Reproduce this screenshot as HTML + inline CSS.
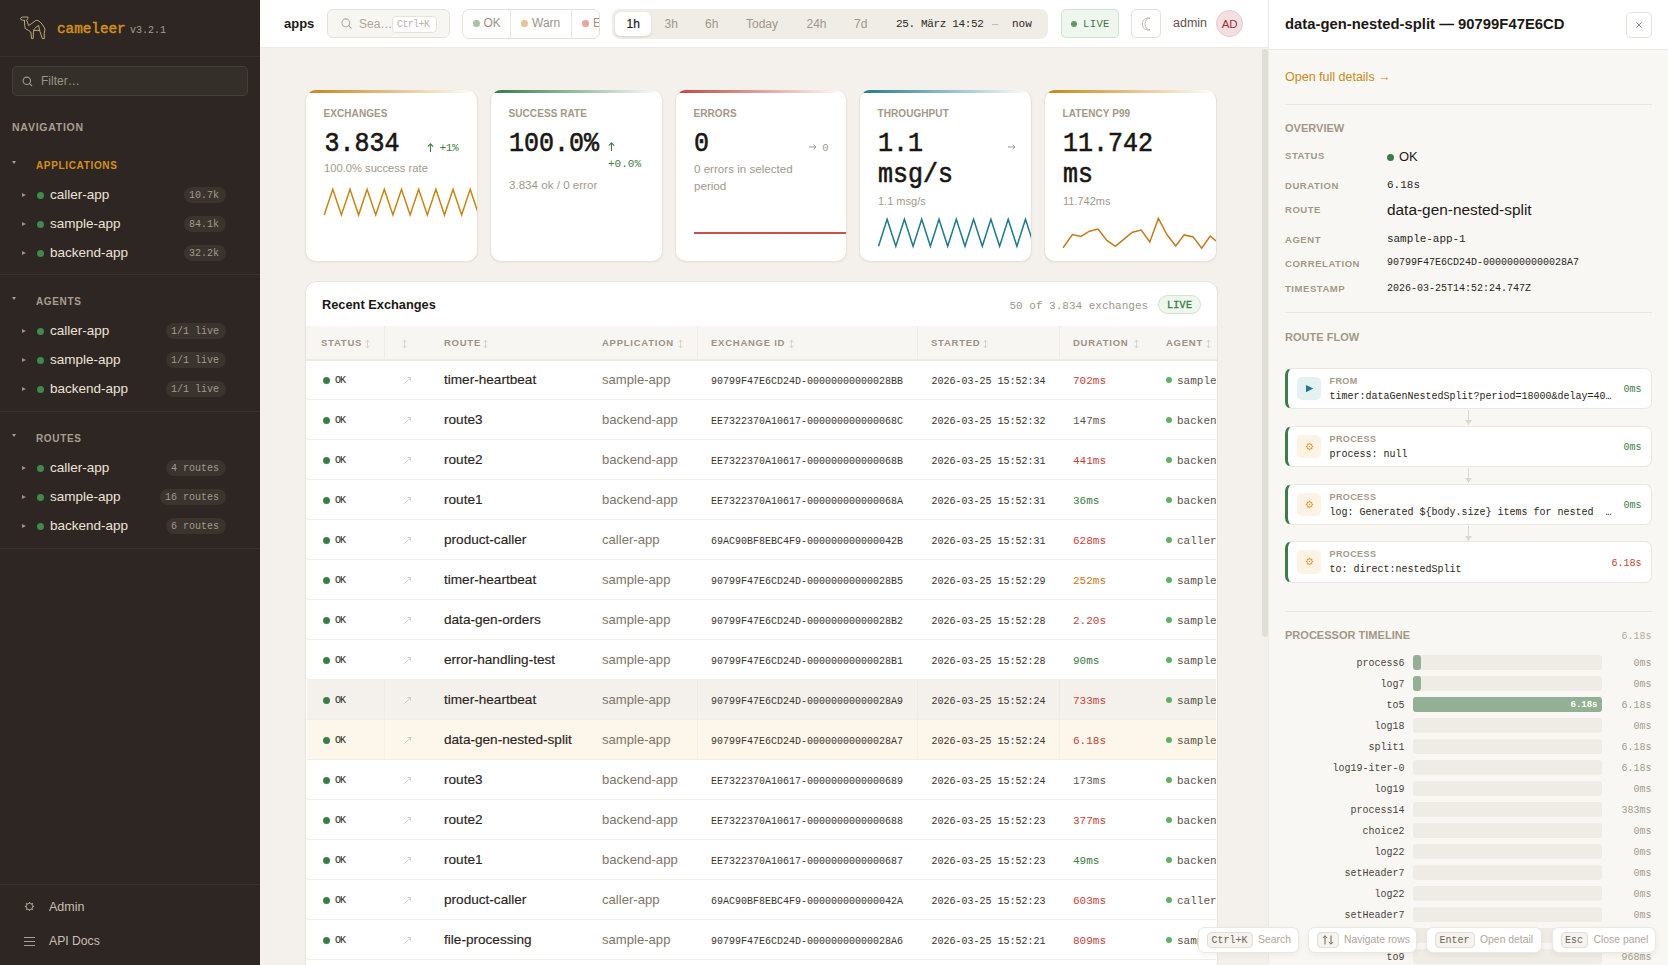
<!DOCTYPE html>
<html><head><meta charset="utf-8">
<style>
*{box-sizing:border-box;margin:0;padding:0}
html,body{width:1668px;height:965px;overflow:hidden;background:#f4f1ec;font-family:"Liberation Sans",sans-serif;position:relative}
.t{position:absolute;white-space:nowrap}
.s{font-family:"Liberation Sans",sans-serif}
.m{font-family:"Liberation Mono",monospace}
.b{position:absolute}
svg{position:absolute;overflow:visible}
</style></head><body>

<div class="b" style="left:0px;top:0px;width:260px;height:965px;background:#2d2622;"></div>
<svg style="left:0;top:0" width="60" height="50" viewBox="0 0 60 50" fill="none" stroke="#c9b485" stroke-width="0.9" stroke-linejoin="round" stroke-linecap="round">
<path d="M24.4 20.4 L22.6 20.2 Q20.3 19.6 20.4 18.7 Q20.9 17.3 22.6 17.1 L27.9 17 L27.8 18.6 L26.7 20.4 L28.6 25.6 Q31.5 23.8 35.5 20.6 Q38.5 19.2 42.5 24.8 Q44.6 27.5 45 29.5 L44.2 33.5 L44.4 38.6 L42.3 38.6 L40.5 33 L39.8 31.4 L38.6 25.5 Q36 26.5 33.8 29.8 L33.4 33 L33.2 38.6 L31.6 38.6 L30.8 32 Q28.5 30.2 25.2 28.5 Q24.6 27 24.4 20.4 Z"/>
<path d="M33.9 30.4 L39.8 30.4"/>
</svg>
<div class="t m" style="left:57px;top:22.27px;font-size:14.3px;line-height:14.3px;color:#d4901a;-webkit-text-stroke:0.45px #d4901a">cameleer</div>
<div class="t m" style="left:130px;top:25.50px;font-size:10px;line-height:10px;color:#a99e90;">v3.2.1</div>
<div class="b" style="left:0px;top:56px;width:260px;height:1px;background:#3a322d;"></div>
<div class="b" style="left:12px;top:66px;width:236px;height:30px;background:#352f2a;border:1px solid #463e38;border-radius:5px"></div>
<svg style="left:22px;top:76px" width="11" height="11" viewBox="0 0 11 11" fill="none" stroke="#a0968a" stroke-width="1.1"><circle cx="4.8" cy="4.8" r="3.7"/><path d="M7.6 7.6 L10 10"/></svg>
<div class="t s" style="left:41px;top:74.80px;font-size:12px;line-height:12px;color:#9d9386;">Filter…</div>
<div class="t s" style="left:12px;top:122.08px;font-size:10.5px;line-height:10.5px;color:#a99e90;font-weight:bold;letter-spacing:0.75px;">NAVIGATION</div>
<div class="b" style="left:12px;top:161px;width:0;height:0;border-top:3px solid #a99e90;border-left:2px solid transparent;border-right:2px solid transparent"></div>
<div class="t s" style="left:36px;top:160.50px;font-size:10px;line-height:10px;color:#d4901a;font-weight:bold;letter-spacing:0.65px;">APPLICATIONS</div>
<div class="b" style="left:21.5px;top:192.5px;width:0;height:0;border-left:4px solid #9b9185;border-top:2.5px solid transparent;border-bottom:2.5px solid transparent"></div>
<div class="b" style="left:37px;top:191.5px;width:7px;height:7px;border-radius:50%;background:#3f8a4c"></div>
<div class="t s" style="left:50px;top:187.53px;font-size:13.5px;line-height:13.5px;color:#ece4d8;">caller-app</div>
<div class="b" style="left:184px;top:187.0px;width:42px;height:16px;background:#3a332e;border-radius:8px"></div>
<div class="t m" style="right:1449px;top:191.00px;font-size:10px;line-height:10px;color:#a39a8d;">10.7k</div>
<div class="b" style="left:21.5px;top:221.7px;width:0;height:0;border-left:4px solid #9b9185;border-top:2.5px solid transparent;border-bottom:2.5px solid transparent"></div>
<div class="b" style="left:37px;top:220.7px;width:7px;height:7px;border-radius:50%;background:#3f8a4c"></div>
<div class="t s" style="left:50px;top:216.72px;font-size:13.5px;line-height:13.5px;color:#ece4d8;">sample-app</div>
<div class="b" style="left:184px;top:216.2px;width:42px;height:16px;background:#3a332e;border-radius:8px"></div>
<div class="t m" style="right:1449px;top:220.20px;font-size:10px;line-height:10px;color:#a39a8d;">84.1k</div>
<div class="b" style="left:21.5px;top:250.9px;width:0;height:0;border-left:4px solid #9b9185;border-top:2.5px solid transparent;border-bottom:2.5px solid transparent"></div>
<div class="b" style="left:37px;top:249.9px;width:7px;height:7px;border-radius:50%;background:#3f8a4c"></div>
<div class="t s" style="left:50px;top:245.92px;font-size:13.5px;line-height:13.5px;color:#ece4d8;">backend-app</div>
<div class="b" style="left:184px;top:245.4px;width:42px;height:16px;background:#3a332e;border-radius:8px"></div>
<div class="t m" style="right:1449px;top:249.40px;font-size:10px;line-height:10px;color:#a39a8d;">32.2k</div>
<div class="b" style="left:0px;top:274px;width:260px;height:1px;background:#3a322d;"></div>
<div class="b" style="left:12px;top:297px;width:0;height:0;border-top:3px solid #a99e90;border-left:2px solid transparent;border-right:2px solid transparent"></div>
<div class="t s" style="left:36px;top:296.50px;font-size:10px;line-height:10px;color:#a99e90;font-weight:bold;letter-spacing:0.65px;">AGENTS</div>
<div class="b" style="left:21.5px;top:328.5px;width:0;height:0;border-left:4px solid #9b9185;border-top:2.5px solid transparent;border-bottom:2.5px solid transparent"></div>
<div class="b" style="left:37px;top:327.5px;width:7px;height:7px;border-radius:50%;background:#3f8a4c"></div>
<div class="t s" style="left:50px;top:323.52px;font-size:13.5px;line-height:13.5px;color:#ece4d8;">caller-app</div>
<div class="b" style="left:166px;top:323.0px;width:60px;height:16px;background:#3a332e;border-radius:8px"></div>
<div class="t m" style="right:1449px;top:327.00px;font-size:10px;line-height:10px;color:#a39a8d;">1/1 live</div>
<div class="b" style="left:21.5px;top:357.7px;width:0;height:0;border-left:4px solid #9b9185;border-top:2.5px solid transparent;border-bottom:2.5px solid transparent"></div>
<div class="b" style="left:37px;top:356.7px;width:7px;height:7px;border-radius:50%;background:#3f8a4c"></div>
<div class="t s" style="left:50px;top:352.72px;font-size:13.5px;line-height:13.5px;color:#ece4d8;">sample-app</div>
<div class="b" style="left:166px;top:352.2px;width:60px;height:16px;background:#3a332e;border-radius:8px"></div>
<div class="t m" style="right:1449px;top:356.20px;font-size:10px;line-height:10px;color:#a39a8d;">1/1 live</div>
<div class="b" style="left:21.5px;top:386.9px;width:0;height:0;border-left:4px solid #9b9185;border-top:2.5px solid transparent;border-bottom:2.5px solid transparent"></div>
<div class="b" style="left:37px;top:385.9px;width:7px;height:7px;border-radius:50%;background:#3f8a4c"></div>
<div class="t s" style="left:50px;top:381.92px;font-size:13.5px;line-height:13.5px;color:#ece4d8;">backend-app</div>
<div class="b" style="left:166px;top:381.4px;width:60px;height:16px;background:#3a332e;border-radius:8px"></div>
<div class="t m" style="right:1449px;top:385.40px;font-size:10px;line-height:10px;color:#a39a8d;">1/1 live</div>
<div class="b" style="left:0px;top:411px;width:260px;height:1px;background:#3a322d;"></div>
<div class="b" style="left:12px;top:434px;width:0;height:0;border-top:3px solid #a99e90;border-left:2px solid transparent;border-right:2px solid transparent"></div>
<div class="t s" style="left:36px;top:433.50px;font-size:10px;line-height:10px;color:#a99e90;font-weight:bold;letter-spacing:0.65px;">ROUTES</div>
<div class="b" style="left:21.5px;top:465.5px;width:0;height:0;border-left:4px solid #9b9185;border-top:2.5px solid transparent;border-bottom:2.5px solid transparent"></div>
<div class="b" style="left:37px;top:464.5px;width:7px;height:7px;border-radius:50%;background:#3f8a4c"></div>
<div class="t s" style="left:50px;top:460.52px;font-size:13.5px;line-height:13.5px;color:#ece4d8;">caller-app</div>
<div class="b" style="left:166px;top:460.0px;width:60px;height:16px;background:#3a332e;border-radius:8px"></div>
<div class="t m" style="right:1449px;top:464.00px;font-size:10px;line-height:10px;color:#a39a8d;">4 routes</div>
<div class="b" style="left:21.5px;top:494.7px;width:0;height:0;border-left:4px solid #9b9185;border-top:2.5px solid transparent;border-bottom:2.5px solid transparent"></div>
<div class="b" style="left:37px;top:493.7px;width:7px;height:7px;border-radius:50%;background:#3f8a4c"></div>
<div class="t s" style="left:50px;top:489.72px;font-size:13.5px;line-height:13.5px;color:#ece4d8;">sample-app</div>
<div class="b" style="left:160px;top:489.2px;width:66px;height:16px;background:#3a332e;border-radius:8px"></div>
<div class="t m" style="right:1449px;top:493.20px;font-size:10px;line-height:10px;color:#a39a8d;">16 routes</div>
<div class="b" style="left:21.5px;top:523.9px;width:0;height:0;border-left:4px solid #9b9185;border-top:2.5px solid transparent;border-bottom:2.5px solid transparent"></div>
<div class="b" style="left:37px;top:522.9px;width:7px;height:7px;border-radius:50%;background:#3f8a4c"></div>
<div class="t s" style="left:50px;top:518.92px;font-size:13.5px;line-height:13.5px;color:#ece4d8;">backend-app</div>
<div class="b" style="left:166px;top:518.4px;width:60px;height:16px;background:#3a332e;border-radius:8px"></div>
<div class="t m" style="right:1449px;top:522.40px;font-size:10px;line-height:10px;color:#a39a8d;">6 routes</div>
<div class="b" style="left:0px;top:548px;width:260px;height:1px;background:#3a322d;"></div>
<div class="b" style="left:0px;top:884px;width:260px;height:1px;background:#3a322d;"></div>
<svg style="left:24px;top:901px" width="11" height="11" viewBox="0 0 11 11" fill="none" stroke="#a99e90" stroke-width="1"><circle cx="5.5" cy="5.5" r="3.2"/><path d="M8.70 5.50 L10.10 5.50 M7.76 7.76 L8.75 8.75 M5.50 8.70 L5.50 10.10 M3.24 7.76 L2.25 8.75 M2.30 5.50 L0.90 5.50 M3.24 3.24 L2.25 2.25 M5.50 2.30 L5.50 0.90 M7.76 3.24 L8.75 2.25 " stroke-width="1.3"/></svg>
<div class="t s" style="left:49px;top:900.88px;font-size:12.5px;line-height:12.5px;color:#c9bfb2;">Admin</div>
<svg style="left:24px;top:937px" width="11" height="10" viewBox="0 0 11 10" fill="none" stroke="#a99e90" stroke-width="1"><path d="M0 0.5H11M0 4.5H11M0 8.5H11"/></svg>
<div class="t s" style="left:49px;top:935.13px;font-size:12.2px;line-height:12.2px;color:#c9bfb2;">API Docs</div>
<div class="b" style="left:260px;top:0px;width:1008px;height:48px;background:#ffffff;border-bottom:1px solid #eeeae3"></div>
<div class="t s" style="left:284px;top:17.45px;font-size:13px;line-height:13px;color:#1c1815;font-weight:bold;">apps</div>
<div class="b" style="left:327px;top:9px;width:123px;height:29px;background:#f8f6f2;border:1px solid #e6e0d7;border-radius:6px"></div>
<svg style="left:341px;top:18px" width="11" height="11" viewBox="0 0 11 11" fill="none" stroke="#b5ab9f" stroke-width="1.1"><circle cx="4.8" cy="4.8" r="3.9"/><path d="M7.7 7.7 L10.5 10.5"/></svg>
<div class="t s" style="left:359px;top:17.80px;font-size:12px;line-height:12px;color:#b0a699;">Sea…</div>
<div class="b" style="left:392px;top:15.5px;width:45px;height:17px;background:#ffffff;border:1px solid #e8e2da;border-radius:4px"></div>
<div class="t m" style="left:397px;top:20.00px;font-size:10px;line-height:10px;color:#bcb2a6;letter-spacing:-0.6px;">Ctrl+K</div>
<div class="b" style="left:462px;top:9px;width:138px;height:30px;background:#ffffff;border:1px solid #e6e0d7;border-radius:7px;overflow:hidden"></div>
<div class="b" style="left:510px;top:10px;width:1px;height:28px;background:#ebe6de;"></div>
<div class="b" style="left:571px;top:10px;width:1px;height:28px;background:#ebe6de;"></div>
<div class="b" style="left:473px;top:20px;width:6.5px;height:6.5px;border-radius:50%;background:#a8c6a6"></div>
<div class="t s" style="left:483.5px;top:17.30px;font-size:12px;line-height:12px;color:#9c9286;">OK</div>
<div class="b" style="left:521px;top:20px;width:6.5px;height:6.5px;border-radius:50%;background:#e6c39b"></div>
<div class="t s" style="left:532px;top:17.30px;font-size:12px;line-height:12px;color:#9c9286;">Warn</div>
<div class="b" style="left:582px;top:20px;width:6.5px;height:6.5px;border-radius:50%;background:#e8a6a3"></div>
<div class="b" style="left:593px;top:10px;width:6px;height:28px;overflow:hidden"><div class="t s" style="left:0;top:6.8px;font-size:12px;line-height:12px;color:#9c9286">Error</div></div>
<div class="b" style="left:612px;top:9px;width:436px;height:30px;background:#f0ece6;border-radius:8px"></div>
<div class="b" style="left:614.5px;top:12px;width:36.5px;height:24px;background:#ffffff;border-radius:6px;box-shadow:0 1px 2px rgba(60,40,20,0.12)"></div>
<div class="t s" style="left:626.5px;top:18.30px;font-size:12px;line-height:12px;color:#1c1815;-webkit-text-stroke:0.2px #1c1815">1h</div>
<div class="t s" style="left:664.5px;top:18.30px;font-size:12px;line-height:12px;color:#a09689;">3h</div>
<div class="t s" style="left:705px;top:18.30px;font-size:12px;line-height:12px;color:#a09689;">6h</div>
<div class="t s" style="left:746px;top:18.30px;font-size:12px;line-height:12px;color:#a09689;">Today</div>
<div class="t s" style="left:806.5px;top:18.30px;font-size:12px;line-height:12px;color:#a09689;">24h</div>
<div class="t s" style="left:854px;top:18.30px;font-size:12px;line-height:12px;color:#a09689;">7d</div>
<div class="t m" style="left:896px;top:18.95px;font-size:11px;line-height:11px;color:#2e2925;letter-spacing:-0.35px;">25. März 14:52</div>
<div class="t m" style="left:992px;top:19.70px;font-size:10px;line-height:10px;color:#b9b0a4;">—</div>
<div class="t m" style="left:1012px;top:18.95px;font-size:11px;line-height:11px;color:#2e2925;">now</div>
<div class="b" style="left:1060.5px;top:9px;width:58px;height:29px;background:#eff6ee;border:1px solid #cfe4cd;border-radius:5px"></div>
<div class="b" style="left:1071px;top:20.5px;width:6px;height:6px;border-radius:50%;background:#5b9a62"></div>
<div class="t m" style="left:1083px;top:19.43px;font-size:10.5px;line-height:10.5px;color:#3b7a45;letter-spacing:0.4px;">LIVE</div>
<div class="b" style="left:1131px;top:9px;width:30px;height:29px;background:#ffffff;border:1px solid #e6e0d7;border-radius:5px"></div>
<svg style="left:1142px;top:17px" width="12" height="14" viewBox="0 0 12 14" fill="none" stroke="#c3b9ac" stroke-width="1"><path d="M8 1 A6.2 6.2 0 1 0 8 13 A5 6 0 0 1 8 1 Z"/></svg>
<div class="t s" style="left:1173px;top:16.98px;font-size:12.5px;line-height:12.5px;color:#5e554c;">admin</div>
<div class="b" style="left:1216px;top:10px;width:27px;height:27px;border-radius:50%;background:#f3dfe0;border:1px solid #e6c9cb"></div>
<div class="t s" style="left:1221px;top:18.73px;font-size:11.5px;line-height:11.5px;color:#9c2f35;width:17px;text-align:center;letter-spacing:-0.2px">AD</div>
<div class="b" style="left:1262px;top:49px;width:6px;height:588px;background:#e2ddd6;border-radius:3px"></div>
<div class="b" style="left:305px;top:89.6px;width:172.8px;height:172.6px;background:#fff;border:1px solid #e8e2d9;border-top:none;border-radius:11px;overflow:hidden;box-shadow:0 1px 2px rgba(80,60,30,0.05)"><div class="b" style="left:0;top:0;width:100%;height:3px;background:linear-gradient(90deg,#c6850f,#c6850f00)"></div></div>
<div class="t s" style="left:323.5px;top:108.50px;font-size:10px;line-height:10px;color:#a39888;font-weight:bold;letter-spacing:0.08px;">EXCHANGES</div>
<div class="b" style="left:489.8px;top:89.6px;width:172.8px;height:172.6px;background:#fff;border:1px solid #e8e2d9;border-top:none;border-radius:11px;overflow:hidden;box-shadow:0 1px 2px rgba(80,60,30,0.05)"><div class="b" style="left:0;top:0;width:100%;height:3px;background:linear-gradient(90deg,#2f7a45,#2f7a4500)"></div></div>
<div class="t s" style="left:508.5px;top:108.50px;font-size:10px;line-height:10px;color:#a39888;font-weight:bold;letter-spacing:0.08px;">SUCCESS RATE</div>
<div class="b" style="left:674.6px;top:89.6px;width:172.8px;height:172.6px;background:#fff;border:1px solid #e8e2d9;border-top:none;border-radius:11px;overflow:hidden;box-shadow:0 1px 2px rgba(80,60,30,0.05)"><div class="b" style="left:0;top:0;width:100%;height:3px;background:linear-gradient(90deg,#c0443c,#c0443c00)"></div></div>
<div class="t s" style="left:693.5px;top:108.50px;font-size:10px;line-height:10px;color:#a39888;font-weight:bold;letter-spacing:0.08px;">ERRORS</div>
<div class="b" style="left:859.4px;top:89.6px;width:172.8px;height:172.6px;background:#fff;border:1px solid #e8e2d9;border-top:none;border-radius:11px;overflow:hidden;box-shadow:0 1px 2px rgba(80,60,30,0.05)"><div class="b" style="left:0;top:0;width:100%;height:3px;background:linear-gradient(90deg,#1f7a8a,#1f7a8a00)"></div></div>
<div class="t s" style="left:877.5px;top:108.50px;font-size:10px;line-height:10px;color:#a39888;font-weight:bold;letter-spacing:0.08px;">THROUGHPUT</div>
<div class="b" style="left:1044.2px;top:89.6px;width:172.8px;height:172.6px;background:#fff;border:1px solid #e8e2d9;border-top:none;border-radius:11px;overflow:hidden;box-shadow:0 1px 2px rgba(80,60,30,0.05)"><div class="b" style="left:0;top:0;width:100%;height:3px;background:linear-gradient(90deg,#c6850f,#c6850f00)"></div></div>
<div class="t s" style="left:1062.5px;top:108.50px;font-size:10px;line-height:10px;color:#a39888;font-weight:bold;letter-spacing:0.08px;">LATENCY P99</div>
<div class="t m" style="left:324.5px;top:132.25px;font-size:25px;line-height:25px;color:#1a1613;-webkit-text-stroke:0.55px #1a1613;transform:scaleY(1.09);transform-origin:0 75%">3.834</div>
<svg style="left:426.5px;top:143px" width="7" height="9" viewBox="0 0 7 9" fill="none" stroke="#3d7c47" stroke-width="1.1"><path d="M3.5 9 V1 M0.8 3.6 L3.5 0.9 L6.2 3.6"/></svg>
<div class="t m" style="left:439.5px;top:142.75px;font-size:11px;line-height:11px;color:#3d7c47;letter-spacing:-0.35px;">+1%</div>
<div class="t s" style="left:324px;top:163.18px;font-size:11.2px;line-height:11.2px;color:#a2988b;">100.0% success rate</div>
<div class="b" style="left:306px;top:180px;width:171px;height:45px;overflow:hidden"><svg style="left:0;top:0" width="171" height="45"><g transform="translate(-306,-180)"><path d="M324.2 215.0 L332.8 189.3 L341.4 215.0 L350.0 189.3 L358.6 215.0 L367.1 189.3 L375.7 215.0 L384.3 189.3 L392.9 215.0 L401.5 189.3 L410.1 215.0 L418.7 189.3 L427.3 215.0 L435.9 189.3 L444.5 215.0 L453.0 189.3 L461.6 215.0 L470.2 189.3 L478.8 215.0 L487.4 189.3 L496.0 215.0 L504.6 189.3" fill="none" stroke="#c6850f" stroke-width="1.5" stroke-linejoin="miter"/></g></svg></div>
<div class="t m" style="left:509px;top:132.25px;font-size:25px;line-height:25px;color:#1a1613;-webkit-text-stroke:0.55px #1a1613;transform:scaleY(1.09);transform-origin:0 75%">100.0%</div>
<svg style="left:607.5px;top:142px" width="7" height="9" viewBox="0 0 7 9" fill="none" stroke="#3d7c47" stroke-width="1.1"><path d="M3.5 9 V1 M0.8 3.6 L3.5 0.9 L6.2 3.6"/></svg>
<div class="t m" style="left:608px;top:159.45px;font-size:11px;line-height:11px;color:#3d7c47;">+0.0%</div>
<div class="t s" style="left:509px;top:178.94px;font-size:11.6px;line-height:11.6px;color:#a2988b;">3.834 ok / 0 error</div>
<div class="t m" style="left:694px;top:132.25px;font-size:25px;line-height:25px;color:#1a1613;-webkit-text-stroke:0.55px #1a1613;transform:scaleY(1.09);transform-origin:0 75%">0</div>
<svg style="left:809px;top:144.3px" width="8" height="6" viewBox="0 0 8 6" fill="none" stroke="#a0968a" stroke-width="1"><path d="M0 3 H7 M4.6 0.8 L7 3 L4.6 5.2"/></svg>
<div class="t m" style="left:822.3px;top:143.12px;font-size:10.5px;line-height:10.5px;color:#a0968a;">0</div>
<div class="t s" style="left:694px;top:163.14px;font-size:11.6px;line-height:11.6px;color:#a2988b;">0 errors in selected</div>
<div class="t s" style="left:694px;top:180.14px;font-size:11.6px;line-height:11.6px;color:#a2988b;">period</div>
<div class="b" style="left:694px;top:232.3px;width:152px;height:2px;background:#c8514a;"></div>
<div class="t m" style="left:878px;top:132.25px;font-size:25px;line-height:25px;color:#1a1613;-webkit-text-stroke:0.55px #1a1613;transform:scaleY(1.09);transform-origin:0 75%">1.1</div>
<div class="t m" style="left:878px;top:163.25px;font-size:25px;line-height:25px;color:#1a1613;-webkit-text-stroke:0.55px #1a1613;transform:scaleY(1.09);transform-origin:0 75%">msg/s</div>
<svg style="left:1007.5px;top:144.3px" width="8" height="6" viewBox="0 0 8 6" fill="none" stroke="#a0968a" stroke-width="1"><path d="M0 3 H7 M4.6 0.8 L7 3 L4.6 5.2"/></svg>
<div class="t s" style="left:878px;top:195.65px;font-size:11px;line-height:11px;color:#a2988b;">1.1 msg/s</div>
<div class="b" style="left:860px;top:210px;width:171px;height:45px;overflow:hidden"><svg style="left:0;top:0" width="171" height="45"><g transform="translate(-860,-210)"><path d="M878.5 246.3 L887.1 219.3 L895.8 246.3 L904.4 219.3 L913.1 246.3 L921.7 219.3 L930.4 246.3 L939.0 219.3 L947.7 246.3 L956.3 219.3 L965.0 246.3 L973.6 219.3 L982.3 246.3 L990.9 219.3 L999.6 246.3 L1008.2 219.3 L1016.9 246.3 L1025.5 219.3 L1034.2 246.3 L1042.8 219.3 L1051.5 246.3 L1060.2 219.3" fill="none" stroke="#1f7a8a" stroke-width="1.5" stroke-linejoin="miter"/></g></svg></div>
<div class="t m" style="left:1063px;top:132.25px;font-size:25px;line-height:25px;color:#1a1613;-webkit-text-stroke:0.55px #1a1613;transform:scaleY(1.09);transform-origin:0 75%">11.742</div>
<div class="t m" style="left:1063px;top:163.25px;font-size:25px;line-height:25px;color:#1a1613;-webkit-text-stroke:0.55px #1a1613;transform:scaleY(1.09);transform-origin:0 75%">ms</div>
<div class="t s" style="left:1063px;top:195.65px;font-size:11px;line-height:11px;color:#a2988b;">11.742ms</div>
<div class="b" style="left:1045px;top:200px;width:171px;height:60px;overflow:hidden"><svg style="left:0;top:0" width="171" height="60"><g transform="translate(-1045,-200)"><path d="M1063.1 247.7 L1072.4 234.5 L1080.9 236.5 L1089.5 231.2 L1098.0 229.0 L1106.9 240.4 L1115.3 246.3 L1124.0 239.1 L1132.4 232.2 L1141.3 230.0 L1149.8 242.0 L1158.4 218.4 L1166.9 234.5 L1175.7 245.9 L1184.2 234.9 L1193.1 236.9 L1201.7 248.3 L1210.2 236.1 L1219.1 243.4" fill="none" stroke="#c27a1a" stroke-width="1.5" stroke-linejoin="miter"/></g></svg></div>
<div class="b" style="left:305px;top:281px;width:913px;height:700px;background:#fff;border:1px solid #e8e2d9;border-radius:11px;overflow:hidden"><div class="b" style="left:0;top:44px;width:100%;height:35px;background:#f8f6f2;border-bottom:2px solid #efebe4"></div></div>
<div class="t s" style="left:322px;top:299.12px;font-size:12.8px;line-height:12.8px;color:#1c1815;font-weight:bold;">Recent Exchanges</div>
<div class="t m" style="left:1009.5px;top:300.75px;font-size:11px;line-height:11px;color:#a0968a;">50 of 3.834 exchanges</div>
<div class="b" style="left:1157.5px;top:294.5px;width:43.5px;height:19px;background:#eef6ee;border:1px solid #cfe4cd;border-radius:9.5px"></div>
<div class="t m" style="left:1167px;top:300.50px;font-size:10px;line-height:10px;color:#3b7a45;letter-spacing:0.3px;-webkit-text-stroke:0.35px #3b7a45">LIVE</div>
<div class="b" style="left:383.5px;top:326px;width:1px;height:33px;background:#efebe5;"></div>
<div class="b" style="left:696.5px;top:326px;width:1px;height:33px;background:#efebe5;"></div>
<div class="b" style="left:917px;top:326px;width:1px;height:33px;background:#efebe5;"></div>
<div class="b" style="left:1059px;top:326px;width:1px;height:33px;background:#efebe5;"></div>
<div class="t s" style="left:321px;top:337.93px;font-size:9.5px;line-height:9.5px;color:#9d9284;font-weight:bold;letter-spacing:0.75px;">STATUS</div>
<svg style="left:365.0px;top:340px" width="5" height="8" viewBox="0 0 5 8" fill="none" stroke="#cfc7bc" stroke-width="0.75"><path d="M2.5 0.5 V7.5 M0.6 2 L2.5 0.4 L4.4 2 M0.6 6 L2.5 7.6 L4.4 6"/></svg>
<svg style="left:402.0px;top:340px" width="5" height="8" viewBox="0 0 5 8" fill="none" stroke="#cfc7bc" stroke-width="0.75"><path d="M2.5 0.5 V7.5 M0.6 2 L2.5 0.4 L4.4 2 M0.6 6 L2.5 7.6 L4.4 6"/></svg>
<div class="t s" style="left:444px;top:337.93px;font-size:9.5px;line-height:9.5px;color:#9d9284;font-weight:bold;letter-spacing:0.75px;">ROUTE</div>
<svg style="left:483.0px;top:340px" width="5" height="8" viewBox="0 0 5 8" fill="none" stroke="#cfc7bc" stroke-width="0.75"><path d="M2.5 0.5 V7.5 M0.6 2 L2.5 0.4 L4.4 2 M0.6 6 L2.5 7.6 L4.4 6"/></svg>
<div class="t s" style="left:602px;top:337.93px;font-size:9.5px;line-height:9.5px;color:#9d9284;font-weight:bold;letter-spacing:0.75px;">APPLICATION</div>
<svg style="left:677.5px;top:340px" width="5" height="8" viewBox="0 0 5 8" fill="none" stroke="#cfc7bc" stroke-width="0.75"><path d="M2.5 0.5 V7.5 M0.6 2 L2.5 0.4 L4.4 2 M0.6 6 L2.5 7.6 L4.4 6"/></svg>
<div class="t s" style="left:711px;top:337.93px;font-size:9.5px;line-height:9.5px;color:#9d9284;font-weight:bold;letter-spacing:0.75px;">EXCHANGE ID</div>
<svg style="left:789.2px;top:340px" width="5" height="8" viewBox="0 0 5 8" fill="none" stroke="#cfc7bc" stroke-width="0.75"><path d="M2.5 0.5 V7.5 M0.6 2 L2.5 0.4 L4.4 2 M0.6 6 L2.5 7.6 L4.4 6"/></svg>
<div class="t s" style="left:931px;top:337.93px;font-size:9.5px;line-height:9.5px;color:#9d9284;font-weight:bold;letter-spacing:0.75px;">STARTED</div>
<svg style="left:983.0px;top:340px" width="5" height="8" viewBox="0 0 5 8" fill="none" stroke="#cfc7bc" stroke-width="0.75"><path d="M2.5 0.5 V7.5 M0.6 2 L2.5 0.4 L4.4 2 M0.6 6 L2.5 7.6 L4.4 6"/></svg>
<div class="t s" style="left:1073px;top:337.93px;font-size:9.5px;line-height:9.5px;color:#9d9284;font-weight:bold;letter-spacing:0.75px;">DURATION</div>
<svg style="left:1134.3px;top:340px" width="5" height="8" viewBox="0 0 5 8" fill="none" stroke="#cfc7bc" stroke-width="0.75"><path d="M2.5 0.5 V7.5 M0.6 2 L2.5 0.4 L4.4 2 M0.6 6 L2.5 7.6 L4.4 6"/></svg>
<div class="t s" style="left:1166px;top:337.93px;font-size:9.5px;line-height:9.5px;color:#9d9284;font-weight:bold;letter-spacing:0.75px;">AGENT</div>
<svg style="left:1206.3px;top:340px" width="5" height="8" viewBox="0 0 5 8" fill="none" stroke="#cfc7bc" stroke-width="0.75"><path d="M2.5 0.5 V7.5 M0.6 2 L2.5 0.4 L4.4 2 M0.6 6 L2.5 7.6 L4.4 6"/></svg>
<div class="b" style="left:307px;top:399px;width:909px;height:1px;background:#f1ede7;"></div>
<div class="b" style="left:322.5px;top:376.5px;width:7px;height:7px;border-radius:50%;background:#3a7d48"></div>
<div class="t m" style="left:335px;top:376.00px;font-size:10px;line-height:10px;color:#3a342e;letter-spacing:-0.9px;-webkit-text-stroke:0.1px #3a342e">OK</div>
<svg style="left:404px;top:377px" width="7" height="7" viewBox="0 0 7 7" fill="none" stroke="#cfc6ba" stroke-width="0.9"><path d="M0.3 6.7 L6.5 0.5 M3.6 0.5 H6.5 V3.4"/></svg>
<div class="t s" style="left:444px;top:373.04px;font-size:13.6px;line-height:13.6px;color:#2a2420;-webkit-text-stroke:0.15px #2a2420">timer-heartbeat</div>
<div class="t s" style="left:602px;top:373.47px;font-size:13.1px;line-height:13.1px;color:#807569;">sample-app</div>
<div class="t m" style="left:711px;top:376.50px;font-size:10px;line-height:10px;color:#3a342e;">90799F47E6CD24D-00000000000028BB</div>
<div class="t m" style="left:931.5px;top:376.80px;font-size:10px;line-height:10px;color:#3a342e;">2026-03-25 15:52:34</div>
<div class="t m" style="left:1073px;top:375.75px;font-size:11px;line-height:11px;color:#c0443c;">702ms</div>
<div class="b" style="left:1166px;top:377px;width:6px;height:6px;border-radius:50%;background:#5cb45f"></div>
<div class="b" style="left:1177px;top:372px;width:39px;height:16px;overflow:hidden"><div class="t m" style="left:0;top:3.75px;font-size:11px;line-height:11px;color:#5a524a">sample-app</div></div>
<div class="b" style="left:307px;top:439px;width:909px;height:1px;background:#f1ede7;"></div>
<div class="b" style="left:322.5px;top:416.5px;width:7px;height:7px;border-radius:50%;background:#3a7d48"></div>
<div class="t m" style="left:335px;top:416.00px;font-size:10px;line-height:10px;color:#3a342e;letter-spacing:-0.9px;-webkit-text-stroke:0.1px #3a342e">OK</div>
<svg style="left:404px;top:417px" width="7" height="7" viewBox="0 0 7 7" fill="none" stroke="#cfc6ba" stroke-width="0.9"><path d="M0.3 6.7 L6.5 0.5 M3.6 0.5 H6.5 V3.4"/></svg>
<div class="t s" style="left:444px;top:413.04px;font-size:13.6px;line-height:13.6px;color:#2a2420;-webkit-text-stroke:0.15px #2a2420">route3</div>
<div class="t s" style="left:602px;top:413.47px;font-size:13.1px;line-height:13.1px;color:#807569;">backend-app</div>
<div class="t m" style="left:711px;top:416.50px;font-size:10px;line-height:10px;color:#3a342e;">EE7322370A10617-000000000000068C</div>
<div class="t m" style="left:931.5px;top:416.80px;font-size:10px;line-height:10px;color:#3a342e;">2026-03-25 15:52:32</div>
<div class="t m" style="left:1073px;top:415.75px;font-size:11px;line-height:11px;color:#5e564d;">147ms</div>
<div class="b" style="left:1166px;top:417px;width:6px;height:6px;border-radius:50%;background:#5cb45f"></div>
<div class="b" style="left:1177px;top:412px;width:39px;height:16px;overflow:hidden"><div class="t m" style="left:0;top:3.75px;font-size:11px;line-height:11px;color:#5a524a">backen-app</div></div>
<div class="b" style="left:307px;top:479px;width:909px;height:1px;background:#f1ede7;"></div>
<div class="b" style="left:322.5px;top:456.5px;width:7px;height:7px;border-radius:50%;background:#3a7d48"></div>
<div class="t m" style="left:335px;top:456.00px;font-size:10px;line-height:10px;color:#3a342e;letter-spacing:-0.9px;-webkit-text-stroke:0.1px #3a342e">OK</div>
<svg style="left:404px;top:457px" width="7" height="7" viewBox="0 0 7 7" fill="none" stroke="#cfc6ba" stroke-width="0.9"><path d="M0.3 6.7 L6.5 0.5 M3.6 0.5 H6.5 V3.4"/></svg>
<div class="t s" style="left:444px;top:453.04px;font-size:13.6px;line-height:13.6px;color:#2a2420;-webkit-text-stroke:0.15px #2a2420">route2</div>
<div class="t s" style="left:602px;top:453.47px;font-size:13.1px;line-height:13.1px;color:#807569;">backend-app</div>
<div class="t m" style="left:711px;top:456.50px;font-size:10px;line-height:10px;color:#3a342e;">EE7322370A10617-000000000000068B</div>
<div class="t m" style="left:931.5px;top:456.80px;font-size:10px;line-height:10px;color:#3a342e;">2026-03-25 15:52:31</div>
<div class="t m" style="left:1073px;top:455.75px;font-size:11px;line-height:11px;color:#c0443c;">441ms</div>
<div class="b" style="left:1166px;top:457px;width:6px;height:6px;border-radius:50%;background:#5cb45f"></div>
<div class="b" style="left:1177px;top:452px;width:39px;height:16px;overflow:hidden"><div class="t m" style="left:0;top:3.75px;font-size:11px;line-height:11px;color:#5a524a">backen-app</div></div>
<div class="b" style="left:307px;top:519px;width:909px;height:1px;background:#f1ede7;"></div>
<div class="b" style="left:322.5px;top:496.5px;width:7px;height:7px;border-radius:50%;background:#3a7d48"></div>
<div class="t m" style="left:335px;top:496.00px;font-size:10px;line-height:10px;color:#3a342e;letter-spacing:-0.9px;-webkit-text-stroke:0.1px #3a342e">OK</div>
<svg style="left:404px;top:497px" width="7" height="7" viewBox="0 0 7 7" fill="none" stroke="#cfc6ba" stroke-width="0.9"><path d="M0.3 6.7 L6.5 0.5 M3.6 0.5 H6.5 V3.4"/></svg>
<div class="t s" style="left:444px;top:493.04px;font-size:13.6px;line-height:13.6px;color:#2a2420;-webkit-text-stroke:0.15px #2a2420">route1</div>
<div class="t s" style="left:602px;top:493.47px;font-size:13.1px;line-height:13.1px;color:#807569;">backend-app</div>
<div class="t m" style="left:711px;top:496.50px;font-size:10px;line-height:10px;color:#3a342e;">EE7322370A10617-000000000000068A</div>
<div class="t m" style="left:931.5px;top:496.80px;font-size:10px;line-height:10px;color:#3a342e;">2026-03-25 15:52:31</div>
<div class="t m" style="left:1073px;top:495.75px;font-size:11px;line-height:11px;color:#3d7c47;">36ms</div>
<div class="b" style="left:1166px;top:497px;width:6px;height:6px;border-radius:50%;background:#5cb45f"></div>
<div class="b" style="left:1177px;top:492px;width:39px;height:16px;overflow:hidden"><div class="t m" style="left:0;top:3.75px;font-size:11px;line-height:11px;color:#5a524a">backen-app</div></div>
<div class="b" style="left:307px;top:559px;width:909px;height:1px;background:#f1ede7;"></div>
<div class="b" style="left:322.5px;top:536.5px;width:7px;height:7px;border-radius:50%;background:#3a7d48"></div>
<div class="t m" style="left:335px;top:536.00px;font-size:10px;line-height:10px;color:#3a342e;letter-spacing:-0.9px;-webkit-text-stroke:0.1px #3a342e">OK</div>
<svg style="left:404px;top:537px" width="7" height="7" viewBox="0 0 7 7" fill="none" stroke="#cfc6ba" stroke-width="0.9"><path d="M0.3 6.7 L6.5 0.5 M3.6 0.5 H6.5 V3.4"/></svg>
<div class="t s" style="left:444px;top:533.04px;font-size:13.6px;line-height:13.6px;color:#2a2420;-webkit-text-stroke:0.15px #2a2420">product-caller</div>
<div class="t s" style="left:602px;top:533.47px;font-size:13.1px;line-height:13.1px;color:#807569;">caller-app</div>
<div class="t m" style="left:711px;top:536.50px;font-size:10px;line-height:10px;color:#3a342e;">69AC90BF8EBC4F9-000000000000042B</div>
<div class="t m" style="left:931.5px;top:536.80px;font-size:10px;line-height:10px;color:#3a342e;">2026-03-25 15:52:31</div>
<div class="t m" style="left:1073px;top:535.75px;font-size:11px;line-height:11px;color:#c0443c;">628ms</div>
<div class="b" style="left:1166px;top:537px;width:6px;height:6px;border-radius:50%;background:#5cb45f"></div>
<div class="b" style="left:1177px;top:532px;width:39px;height:16px;overflow:hidden"><div class="t m" style="left:0;top:3.75px;font-size:11px;line-height:11px;color:#5a524a">caller-app</div></div>
<div class="b" style="left:307px;top:599px;width:909px;height:1px;background:#f1ede7;"></div>
<div class="b" style="left:322.5px;top:576.5px;width:7px;height:7px;border-radius:50%;background:#3a7d48"></div>
<div class="t m" style="left:335px;top:576.00px;font-size:10px;line-height:10px;color:#3a342e;letter-spacing:-0.9px;-webkit-text-stroke:0.1px #3a342e">OK</div>
<svg style="left:404px;top:577px" width="7" height="7" viewBox="0 0 7 7" fill="none" stroke="#cfc6ba" stroke-width="0.9"><path d="M0.3 6.7 L6.5 0.5 M3.6 0.5 H6.5 V3.4"/></svg>
<div class="t s" style="left:444px;top:573.04px;font-size:13.6px;line-height:13.6px;color:#2a2420;-webkit-text-stroke:0.15px #2a2420">timer-heartbeat</div>
<div class="t s" style="left:602px;top:573.47px;font-size:13.1px;line-height:13.1px;color:#807569;">sample-app</div>
<div class="t m" style="left:711px;top:576.50px;font-size:10px;line-height:10px;color:#3a342e;">90799F47E6CD24D-00000000000028B5</div>
<div class="t m" style="left:931.5px;top:576.80px;font-size:10px;line-height:10px;color:#3a342e;">2026-03-25 15:52:29</div>
<div class="t m" style="left:1073px;top:575.75px;font-size:11px;line-height:11px;color:#c27a1a;">252ms</div>
<div class="b" style="left:1166px;top:577px;width:6px;height:6px;border-radius:50%;background:#5cb45f"></div>
<div class="b" style="left:1177px;top:572px;width:39px;height:16px;overflow:hidden"><div class="t m" style="left:0;top:3.75px;font-size:11px;line-height:11px;color:#5a524a">sample-app</div></div>
<div class="b" style="left:307px;top:639px;width:909px;height:1px;background:#f1ede7;"></div>
<div class="b" style="left:322.5px;top:616.5px;width:7px;height:7px;border-radius:50%;background:#3a7d48"></div>
<div class="t m" style="left:335px;top:616.00px;font-size:10px;line-height:10px;color:#3a342e;letter-spacing:-0.9px;-webkit-text-stroke:0.1px #3a342e">OK</div>
<svg style="left:404px;top:617px" width="7" height="7" viewBox="0 0 7 7" fill="none" stroke="#cfc6ba" stroke-width="0.9"><path d="M0.3 6.7 L6.5 0.5 M3.6 0.5 H6.5 V3.4"/></svg>
<div class="t s" style="left:444px;top:613.04px;font-size:13.6px;line-height:13.6px;color:#2a2420;-webkit-text-stroke:0.15px #2a2420">data-gen-orders</div>
<div class="t s" style="left:602px;top:613.47px;font-size:13.1px;line-height:13.1px;color:#807569;">sample-app</div>
<div class="t m" style="left:711px;top:616.50px;font-size:10px;line-height:10px;color:#3a342e;">90799F47E6CD24D-00000000000028B2</div>
<div class="t m" style="left:931.5px;top:616.80px;font-size:10px;line-height:10px;color:#3a342e;">2026-03-25 15:52:28</div>
<div class="t m" style="left:1073px;top:615.75px;font-size:11px;line-height:11px;color:#c0443c;">2.20s</div>
<div class="b" style="left:1166px;top:617px;width:6px;height:6px;border-radius:50%;background:#5cb45f"></div>
<div class="b" style="left:1177px;top:612px;width:39px;height:16px;overflow:hidden"><div class="t m" style="left:0;top:3.75px;font-size:11px;line-height:11px;color:#5a524a">sample-app</div></div>
<div class="b" style="left:307px;top:679px;width:909px;height:1px;background:#f1ede7;"></div>
<div class="b" style="left:322.5px;top:656.5px;width:7px;height:7px;border-radius:50%;background:#3a7d48"></div>
<div class="t m" style="left:335px;top:656.00px;font-size:10px;line-height:10px;color:#3a342e;letter-spacing:-0.9px;-webkit-text-stroke:0.1px #3a342e">OK</div>
<svg style="left:404px;top:657px" width="7" height="7" viewBox="0 0 7 7" fill="none" stroke="#cfc6ba" stroke-width="0.9"><path d="M0.3 6.7 L6.5 0.5 M3.6 0.5 H6.5 V3.4"/></svg>
<div class="t s" style="left:444px;top:653.04px;font-size:13.6px;line-height:13.6px;color:#2a2420;-webkit-text-stroke:0.15px #2a2420">error-handling-test</div>
<div class="t s" style="left:602px;top:653.47px;font-size:13.1px;line-height:13.1px;color:#807569;">sample-app</div>
<div class="t m" style="left:711px;top:656.50px;font-size:10px;line-height:10px;color:#3a342e;">90799F47E6CD24D-00000000000028B1</div>
<div class="t m" style="left:931.5px;top:656.80px;font-size:10px;line-height:10px;color:#3a342e;">2026-03-25 15:52:28</div>
<div class="t m" style="left:1073px;top:655.75px;font-size:11px;line-height:11px;color:#3d7c47;">90ms</div>
<div class="b" style="left:1166px;top:657px;width:6px;height:6px;border-radius:50%;background:#5cb45f"></div>
<div class="b" style="left:1177px;top:652px;width:39px;height:16px;overflow:hidden"><div class="t m" style="left:0;top:3.75px;font-size:11px;line-height:11px;color:#5a524a">sample-app</div></div>
<div class="b" style="left:307px;top:680px;width:909px;height:40px;background:#f4f1ec;"></div>
<div class="b" style="left:383.5px;top:680px;width:1px;height:40px;background:rgba(0,0,0,0.022);"></div>
<div class="b" style="left:696.5px;top:680px;width:1px;height:40px;background:rgba(0,0,0,0.022);"></div>
<div class="b" style="left:917px;top:680px;width:1px;height:40px;background:rgba(0,0,0,0.022);"></div>
<div class="b" style="left:1059px;top:680px;width:1px;height:40px;background:rgba(0,0,0,0.022);"></div>
<div class="b" style="left:307px;top:719px;width:909px;height:1px;background:#f1ede7;"></div>
<div class="b" style="left:322.5px;top:696.5px;width:7px;height:7px;border-radius:50%;background:#3a7d48"></div>
<div class="t m" style="left:335px;top:696.00px;font-size:10px;line-height:10px;color:#3a342e;letter-spacing:-0.9px;-webkit-text-stroke:0.1px #3a342e">OK</div>
<svg style="left:404px;top:697px" width="7" height="7" viewBox="0 0 7 7" fill="none" stroke="#cfc6ba" stroke-width="0.9"><path d="M0.3 6.7 L6.5 0.5 M3.6 0.5 H6.5 V3.4"/></svg>
<div class="t s" style="left:444px;top:693.04px;font-size:13.6px;line-height:13.6px;color:#2a2420;-webkit-text-stroke:0.15px #2a2420">timer-heartbeat</div>
<div class="t s" style="left:602px;top:693.47px;font-size:13.1px;line-height:13.1px;color:#807569;">sample-app</div>
<div class="t m" style="left:711px;top:696.50px;font-size:10px;line-height:10px;color:#3a342e;">90799F47E6CD24D-00000000000028A9</div>
<div class="t m" style="left:931.5px;top:696.80px;font-size:10px;line-height:10px;color:#3a342e;">2026-03-25 15:52:24</div>
<div class="t m" style="left:1073px;top:695.75px;font-size:11px;line-height:11px;color:#c0443c;">733ms</div>
<div class="b" style="left:1166px;top:697px;width:6px;height:6px;border-radius:50%;background:#5cb45f"></div>
<div class="b" style="left:1177px;top:692px;width:39px;height:16px;overflow:hidden"><div class="t m" style="left:0;top:3.75px;font-size:11px;line-height:11px;color:#5a524a">sample-app</div></div>
<div class="b" style="left:307px;top:720px;width:909px;height:40px;background:#fdf6ea;"></div>
<div class="b" style="left:383.5px;top:720px;width:1px;height:40px;background:rgba(0,0,0,0.022);"></div>
<div class="b" style="left:696.5px;top:720px;width:1px;height:40px;background:rgba(0,0,0,0.022);"></div>
<div class="b" style="left:917px;top:720px;width:1px;height:40px;background:rgba(0,0,0,0.022);"></div>
<div class="b" style="left:1059px;top:720px;width:1px;height:40px;background:rgba(0,0,0,0.022);"></div>
<div class="b" style="left:307px;top:759px;width:909px;height:1px;background:#f1ede7;"></div>
<div class="b" style="left:322.5px;top:736.5px;width:7px;height:7px;border-radius:50%;background:#3a7d48"></div>
<div class="t m" style="left:335px;top:736.00px;font-size:10px;line-height:10px;color:#3a342e;letter-spacing:-0.9px;-webkit-text-stroke:0.1px #3a342e">OK</div>
<svg style="left:404px;top:737px" width="7" height="7" viewBox="0 0 7 7" fill="none" stroke="#cfc6ba" stroke-width="0.9"><path d="M0.3 6.7 L6.5 0.5 M3.6 0.5 H6.5 V3.4"/></svg>
<div class="t s" style="left:444px;top:733.04px;font-size:13.6px;line-height:13.6px;color:#2a2420;-webkit-text-stroke:0.15px #2a2420">data-gen-nested-split</div>
<div class="t s" style="left:602px;top:733.47px;font-size:13.1px;line-height:13.1px;color:#807569;">sample-app</div>
<div class="t m" style="left:711px;top:736.50px;font-size:10px;line-height:10px;color:#3a342e;">90799F47E6CD24D-00000000000028A7</div>
<div class="t m" style="left:931.5px;top:736.80px;font-size:10px;line-height:10px;color:#3a342e;">2026-03-25 15:52:24</div>
<div class="t m" style="left:1073px;top:735.75px;font-size:11px;line-height:11px;color:#c0443c;">6.18s</div>
<div class="b" style="left:1166px;top:737px;width:6px;height:6px;border-radius:50%;background:#5cb45f"></div>
<div class="b" style="left:1177px;top:732px;width:39px;height:16px;overflow:hidden"><div class="t m" style="left:0;top:3.75px;font-size:11px;line-height:11px;color:#5a524a">sample-app</div></div>
<div class="b" style="left:307px;top:799px;width:909px;height:1px;background:#f1ede7;"></div>
<div class="b" style="left:322.5px;top:776.5px;width:7px;height:7px;border-radius:50%;background:#3a7d48"></div>
<div class="t m" style="left:335px;top:776.00px;font-size:10px;line-height:10px;color:#3a342e;letter-spacing:-0.9px;-webkit-text-stroke:0.1px #3a342e">OK</div>
<svg style="left:404px;top:777px" width="7" height="7" viewBox="0 0 7 7" fill="none" stroke="#cfc6ba" stroke-width="0.9"><path d="M0.3 6.7 L6.5 0.5 M3.6 0.5 H6.5 V3.4"/></svg>
<div class="t s" style="left:444px;top:773.04px;font-size:13.6px;line-height:13.6px;color:#2a2420;-webkit-text-stroke:0.15px #2a2420">route3</div>
<div class="t s" style="left:602px;top:773.47px;font-size:13.1px;line-height:13.1px;color:#807569;">backend-app</div>
<div class="t m" style="left:711px;top:776.50px;font-size:10px;line-height:10px;color:#3a342e;">EE7322370A10617-0000000000000689</div>
<div class="t m" style="left:931.5px;top:776.80px;font-size:10px;line-height:10px;color:#3a342e;">2026-03-25 15:52:24</div>
<div class="t m" style="left:1073px;top:775.75px;font-size:11px;line-height:11px;color:#5e564d;">173ms</div>
<div class="b" style="left:1166px;top:777px;width:6px;height:6px;border-radius:50%;background:#5cb45f"></div>
<div class="b" style="left:1177px;top:772px;width:39px;height:16px;overflow:hidden"><div class="t m" style="left:0;top:3.75px;font-size:11px;line-height:11px;color:#5a524a">backen-app</div></div>
<div class="b" style="left:307px;top:839px;width:909px;height:1px;background:#f1ede7;"></div>
<div class="b" style="left:322.5px;top:816.5px;width:7px;height:7px;border-radius:50%;background:#3a7d48"></div>
<div class="t m" style="left:335px;top:816.00px;font-size:10px;line-height:10px;color:#3a342e;letter-spacing:-0.9px;-webkit-text-stroke:0.1px #3a342e">OK</div>
<svg style="left:404px;top:817px" width="7" height="7" viewBox="0 0 7 7" fill="none" stroke="#cfc6ba" stroke-width="0.9"><path d="M0.3 6.7 L6.5 0.5 M3.6 0.5 H6.5 V3.4"/></svg>
<div class="t s" style="left:444px;top:813.04px;font-size:13.6px;line-height:13.6px;color:#2a2420;-webkit-text-stroke:0.15px #2a2420">route2</div>
<div class="t s" style="left:602px;top:813.47px;font-size:13.1px;line-height:13.1px;color:#807569;">backend-app</div>
<div class="t m" style="left:711px;top:816.50px;font-size:10px;line-height:10px;color:#3a342e;">EE7322370A10617-0000000000000688</div>
<div class="t m" style="left:931.5px;top:816.80px;font-size:10px;line-height:10px;color:#3a342e;">2026-03-25 15:52:23</div>
<div class="t m" style="left:1073px;top:815.75px;font-size:11px;line-height:11px;color:#c0443c;">377ms</div>
<div class="b" style="left:1166px;top:817px;width:6px;height:6px;border-radius:50%;background:#5cb45f"></div>
<div class="b" style="left:1177px;top:812px;width:39px;height:16px;overflow:hidden"><div class="t m" style="left:0;top:3.75px;font-size:11px;line-height:11px;color:#5a524a">backen-app</div></div>
<div class="b" style="left:307px;top:879px;width:909px;height:1px;background:#f1ede7;"></div>
<div class="b" style="left:322.5px;top:856.5px;width:7px;height:7px;border-radius:50%;background:#3a7d48"></div>
<div class="t m" style="left:335px;top:856.00px;font-size:10px;line-height:10px;color:#3a342e;letter-spacing:-0.9px;-webkit-text-stroke:0.1px #3a342e">OK</div>
<svg style="left:404px;top:857px" width="7" height="7" viewBox="0 0 7 7" fill="none" stroke="#cfc6ba" stroke-width="0.9"><path d="M0.3 6.7 L6.5 0.5 M3.6 0.5 H6.5 V3.4"/></svg>
<div class="t s" style="left:444px;top:853.04px;font-size:13.6px;line-height:13.6px;color:#2a2420;-webkit-text-stroke:0.15px #2a2420">route1</div>
<div class="t s" style="left:602px;top:853.47px;font-size:13.1px;line-height:13.1px;color:#807569;">backend-app</div>
<div class="t m" style="left:711px;top:856.50px;font-size:10px;line-height:10px;color:#3a342e;">EE7322370A10617-0000000000000687</div>
<div class="t m" style="left:931.5px;top:856.80px;font-size:10px;line-height:10px;color:#3a342e;">2026-03-25 15:52:23</div>
<div class="t m" style="left:1073px;top:855.75px;font-size:11px;line-height:11px;color:#3d7c47;">49ms</div>
<div class="b" style="left:1166px;top:857px;width:6px;height:6px;border-radius:50%;background:#5cb45f"></div>
<div class="b" style="left:1177px;top:852px;width:39px;height:16px;overflow:hidden"><div class="t m" style="left:0;top:3.75px;font-size:11px;line-height:11px;color:#5a524a">backen-app</div></div>
<div class="b" style="left:307px;top:919px;width:909px;height:1px;background:#f1ede7;"></div>
<div class="b" style="left:322.5px;top:896.5px;width:7px;height:7px;border-radius:50%;background:#3a7d48"></div>
<div class="t m" style="left:335px;top:896.00px;font-size:10px;line-height:10px;color:#3a342e;letter-spacing:-0.9px;-webkit-text-stroke:0.1px #3a342e">OK</div>
<svg style="left:404px;top:897px" width="7" height="7" viewBox="0 0 7 7" fill="none" stroke="#cfc6ba" stroke-width="0.9"><path d="M0.3 6.7 L6.5 0.5 M3.6 0.5 H6.5 V3.4"/></svg>
<div class="t s" style="left:444px;top:893.04px;font-size:13.6px;line-height:13.6px;color:#2a2420;-webkit-text-stroke:0.15px #2a2420">product-caller</div>
<div class="t s" style="left:602px;top:893.47px;font-size:13.1px;line-height:13.1px;color:#807569;">caller-app</div>
<div class="t m" style="left:711px;top:896.50px;font-size:10px;line-height:10px;color:#3a342e;">69AC90BF8EBC4F9-000000000000042A</div>
<div class="t m" style="left:931.5px;top:896.80px;font-size:10px;line-height:10px;color:#3a342e;">2026-03-25 15:52:23</div>
<div class="t m" style="left:1073px;top:895.75px;font-size:11px;line-height:11px;color:#c0443c;">603ms</div>
<div class="b" style="left:1166px;top:897px;width:6px;height:6px;border-radius:50%;background:#5cb45f"></div>
<div class="b" style="left:1177px;top:892px;width:39px;height:16px;overflow:hidden"><div class="t m" style="left:0;top:3.75px;font-size:11px;line-height:11px;color:#5a524a">caller-app</div></div>
<div class="b" style="left:307px;top:959px;width:909px;height:1px;background:#f1ede7;"></div>
<div class="b" style="left:322.5px;top:936.5px;width:7px;height:7px;border-radius:50%;background:#3a7d48"></div>
<div class="t m" style="left:335px;top:936.00px;font-size:10px;line-height:10px;color:#3a342e;letter-spacing:-0.9px;-webkit-text-stroke:0.1px #3a342e">OK</div>
<svg style="left:404px;top:937px" width="7" height="7" viewBox="0 0 7 7" fill="none" stroke="#cfc6ba" stroke-width="0.9"><path d="M0.3 6.7 L6.5 0.5 M3.6 0.5 H6.5 V3.4"/></svg>
<div class="t s" style="left:444px;top:933.04px;font-size:13.6px;line-height:13.6px;color:#2a2420;-webkit-text-stroke:0.15px #2a2420">file-processing</div>
<div class="t s" style="left:602px;top:933.47px;font-size:13.1px;line-height:13.1px;color:#807569;">sample-app</div>
<div class="t m" style="left:711px;top:936.50px;font-size:10px;line-height:10px;color:#3a342e;">90799F47E6CD24D-00000000000028A6</div>
<div class="t m" style="left:931.5px;top:936.80px;font-size:10px;line-height:10px;color:#3a342e;">2026-03-25 15:52:21</div>
<div class="t m" style="left:1073px;top:935.75px;font-size:11px;line-height:11px;color:#c0443c;">809ms</div>
<div class="b" style="left:1166px;top:937px;width:6px;height:6px;border-radius:50%;background:#5cb45f"></div>
<div class="b" style="left:1177px;top:932px;width:39px;height:16px;overflow:hidden"><div class="t m" style="left:0;top:3.75px;font-size:11px;line-height:11px;color:#5a524a">sample-app</div></div>
<div class="b" style="left:307px;top:999px;width:909px;height:1px;background:#f1ede7;"></div>
<div class="b" style="left:322.5px;top:976.5px;width:7px;height:7px;border-radius:50%;background:#3a7d48"></div>
<div class="t m" style="left:335px;top:976.00px;font-size:10px;line-height:10px;color:#3a342e;letter-spacing:-0.9px;-webkit-text-stroke:0.1px #3a342e">OK</div>
<svg style="left:404px;top:977px" width="7" height="7" viewBox="0 0 7 7" fill="none" stroke="#cfc6ba" stroke-width="0.9"><path d="M0.3 6.7 L6.5 0.5 M3.6 0.5 H6.5 V3.4"/></svg>
<div class="t s" style="left:444px;top:973.04px;font-size:13.6px;line-height:13.6px;color:#2a2420;-webkit-text-stroke:0.15px #2a2420">timer-heartbeat</div>
<div class="t s" style="left:602px;top:973.47px;font-size:13.1px;line-height:13.1px;color:#807569;">sample-app</div>
<div class="t m" style="left:711px;top:976.50px;font-size:10px;line-height:10px;color:#3a342e;">90799F47E6CD24D-00000000000028A5</div>
<div class="t m" style="left:931.5px;top:976.80px;font-size:10px;line-height:10px;color:#3a342e;">2026-03-25 15:52:19</div>
<div class="t m" style="left:1073px;top:975.75px;font-size:11px;line-height:11px;color:#c0443c;">702ms</div>
<div class="b" style="left:1166px;top:977px;width:6px;height:6px;border-radius:50%;background:#5cb45f"></div>
<div class="b" style="left:1177px;top:972px;width:39px;height:16px;overflow:hidden"><div class="t m" style="left:0;top:3.75px;font-size:11px;line-height:11px;color:#5a524a">sample-app</div></div>
<div class="b" style="left:1268px;top:0px;width:400px;height:965px;background:#f9f7f3;border-left:1px solid #eeeae4"></div>
<div class="b" style="left:1269px;top:0px;width:399px;height:50px;background:#ffffff;border-bottom:1px solid #ece7df"></div>
<div class="t s" style="left:1285px;top:16.92px;font-size:14.8px;line-height:14.8px;color:#1c1815;font-weight:bold;letter-spacing:0.02px;">data-gen-nested-split — 90799F47E6CD</div>
<div class="b" style="left:1626px;top:12px;width:26px;height:26px;background:#ffffff;border:1px solid #e6e0d7;border-radius:5px"></div>
<svg style="left:1636px;top:22px" width="6" height="6" viewBox="0 0 6 6" fill="none" stroke="#8a8075" stroke-width="0.9"><path d="M0.3 0.3 L5.7 5.7 M5.7 0.3 L0.3 5.7"/></svg>
<div class="t s" style="left:1285px;top:70.88px;font-size:12.5px;line-height:12.5px;color:#c8891c;">Open full details →</div>
<div class="b" style="left:1285px;top:103.5px;width:367px;height:1px;background:#ebe6de;"></div>
<div class="t s" style="left:1285px;top:122.95px;font-size:11px;line-height:11px;color:#a39888;font-weight:bold;letter-spacing:0.02px;">OVERVIEW</div>
<div class="t s" style="left:1285px;top:150.53px;font-size:9.5px;line-height:9.5px;color:#a39888;font-weight:bold;letter-spacing:0.55px;">STATUS</div>
<div class="t s" style="left:1285px;top:180.83px;font-size:9.5px;line-height:9.5px;color:#a39888;font-weight:bold;letter-spacing:0.55px;">DURATION</div>
<div class="t s" style="left:1285px;top:204.73px;font-size:9.5px;line-height:9.5px;color:#a39888;font-weight:bold;letter-spacing:0.55px;">ROUTE</div>
<div class="t s" style="left:1285px;top:234.62px;font-size:9.5px;line-height:9.5px;color:#a39888;font-weight:bold;letter-spacing:0.55px;">AGENT</div>
<div class="t s" style="left:1285px;top:258.53px;font-size:9.5px;line-height:9.5px;color:#a39888;font-weight:bold;letter-spacing:0.55px;">CORRELATION</div>
<div class="t s" style="left:1285px;top:284.12px;font-size:9.5px;line-height:9.5px;color:#a39888;font-weight:bold;letter-spacing:0.55px;">TIMESTAMP</div>
<div class="b" style="left:1386.5px;top:153.5px;width:7.5px;height:7.5px;border-radius:50%;background:#3a7d48"></div>
<div class="t s" style="left:1399px;top:150.25px;font-size:13px;line-height:13px;color:#1c1815;">OK</div>
<div class="t m" style="left:1387px;top:180.05px;font-size:11px;line-height:11px;color:#2a2420;">6.18s</div>
<div class="t s" style="left:1387px;top:201.91px;font-size:15.4px;line-height:15.4px;color:#1c1815;">data-gen-nested-split</div>
<div class="t m" style="left:1387px;top:234.25px;font-size:11px;line-height:11px;color:#2a2420;letter-spacing:-0.05px;">sample-app-1</div>
<div class="t m" style="left:1387px;top:257.50px;font-size:10px;line-height:10px;color:#2a2420;">90799F47E6CD24D-00000000000028A7</div>
<div class="t m" style="left:1387px;top:283.50px;font-size:10px;line-height:10px;color:#2a2420;">2026-03-25T14:52:24.747Z</div>
<div class="b" style="left:1285px;top:312px;width:367px;height:1px;background:#ebe6de;"></div>
<div class="t s" style="left:1285px;top:331.65px;font-size:11px;line-height:11px;color:#a39888;font-weight:bold;letter-spacing:0.02px;">ROUTE FLOW</div>
<div class="b" style="left:1285px;top:367.8px;width:366.5px;height:41.6px;background:#fff;border:1px solid #ece7df;border-left:3px solid #3a7d48;border-radius:7px"></div>
<div class="b" style="left:1297px;top:376.5px;width:24px;height:23.5px;background:#e3f1f3;border-radius:5px"></div>
<svg style="left:1305.6px;top:384.8px" width="8" height="8" viewBox="0 0 8 8"><path d="M0 0 L7.3 3.6 L0 7.2 Z" fill="#1f7a8c"/></svg>
<div class="t s" style="left:1329.5px;top:376.85px;font-size:9px;line-height:9px;color:#a39888;font-weight:bold;letter-spacing:0.4px;">FROM</div>
<div class="t m" style="left:1329.5px;top:391.50px;font-size:10px;line-height:10px;color:#2a2420;">timer:dataGenNestedSplit?period=18000&amp;delay=40…</div>
<div class="t m" style="right:26.5px;top:385.00px;font-size:10px;line-height:10px;color:#3d7c47;">0ms</div>
<div class="b" style="left:1467.5px;top:409.5px;width:1px;height:15px;background:#ddd6cc;"></div>
<svg style="left:1464.5px;top:419.5px" width="7" height="5" viewBox="0 0 7 5"><path d="M0 0 L7 0 L3.5 4.5 Z" fill="#ddd6cc"/></svg>
<div class="b" style="left:1285px;top:425.8px;width:366.5px;height:41.6px;background:#fff;border:1px solid #ece7df;border-left:3px solid #3a7d48;border-radius:7px"></div>
<div class="b" style="left:1297px;top:434.5px;width:24px;height:23.5px;background:#fdf3e5;border-radius:5px"></div>
<svg style="left:1304.5px;top:441.8px" width="9" height="9" viewBox="0 0 9 9" fill="none" stroke="#d7962c" stroke-width="0.9"><circle cx="4.5" cy="4.5" r="2.6"/><path d="M7.10 4.50 L8.20 4.50 M6.34 6.34 L7.12 7.12 M4.50 7.10 L4.50 8.20 M2.66 6.34 L1.88 7.12 M1.90 4.50 L0.80 4.50 M2.66 2.66 L1.88 1.88 M4.50 1.90 L4.50 0.80 M6.34 2.66 L7.12 1.88 " stroke-width="1.2"/><circle cx="4.5" cy="4.5" r="0.65" fill="#d7962c" stroke="none"/></svg>
<div class="t s" style="left:1329.5px;top:434.85px;font-size:9px;line-height:9px;color:#a39888;font-weight:bold;letter-spacing:0.4px;">PROCESS</div>
<div class="t m" style="left:1329.5px;top:449.50px;font-size:10px;line-height:10px;color:#2a2420;">process: null</div>
<div class="t m" style="right:26.5px;top:443.00px;font-size:10px;line-height:10px;color:#3d7c47;">0ms</div>
<div class="b" style="left:1467.5px;top:467.5px;width:1px;height:15px;background:#ddd6cc;"></div>
<svg style="left:1464.5px;top:477.5px" width="7" height="5" viewBox="0 0 7 5"><path d="M0 0 L7 0 L3.5 4.5 Z" fill="#ddd6cc"/></svg>
<div class="b" style="left:1285px;top:483.8px;width:366.5px;height:41.6px;background:#fff;border:1px solid #ece7df;border-left:3px solid #3a7d48;border-radius:7px"></div>
<div class="b" style="left:1297px;top:492.5px;width:24px;height:23.5px;background:#fdf3e5;border-radius:5px"></div>
<svg style="left:1304.5px;top:499.8px" width="9" height="9" viewBox="0 0 9 9" fill="none" stroke="#d7962c" stroke-width="0.9"><circle cx="4.5" cy="4.5" r="2.6"/><path d="M7.10 4.50 L8.20 4.50 M6.34 6.34 L7.12 7.12 M4.50 7.10 L4.50 8.20 M2.66 6.34 L1.88 7.12 M1.90 4.50 L0.80 4.50 M2.66 2.66 L1.88 1.88 M4.50 1.90 L4.50 0.80 M6.34 2.66 L7.12 1.88 " stroke-width="1.2"/><circle cx="4.5" cy="4.5" r="0.65" fill="#d7962c" stroke="none"/></svg>
<div class="t s" style="left:1329.5px;top:492.85px;font-size:9px;line-height:9px;color:#a39888;font-weight:bold;letter-spacing:0.4px;">PROCESS</div>
<div class="t m" style="left:1329.5px;top:507.50px;font-size:10px;line-height:10px;color:#2a2420;">log: Generated ${body.size} items for nested &nbsp;…</div>
<div class="t m" style="right:26.5px;top:501.00px;font-size:10px;line-height:10px;color:#3d7c47;">0ms</div>
<div class="b" style="left:1467.5px;top:525.5px;width:1px;height:15px;background:#ddd6cc;"></div>
<svg style="left:1464.5px;top:535.5px" width="7" height="5" viewBox="0 0 7 5"><path d="M0 0 L7 0 L3.5 4.5 Z" fill="#ddd6cc"/></svg>
<div class="b" style="left:1285px;top:541.3px;width:366.5px;height:41.6px;background:#fff;border:1px solid #ece7df;border-left:3px solid #3a7d48;border-radius:7px"></div>
<div class="b" style="left:1297px;top:550px;width:24px;height:23.5px;background:#fdf3e5;border-radius:5px"></div>
<svg style="left:1304.5px;top:557.3px" width="9" height="9" viewBox="0 0 9 9" fill="none" stroke="#d7962c" stroke-width="0.9"><circle cx="4.5" cy="4.5" r="2.6"/><path d="M7.10 4.50 L8.20 4.50 M6.34 6.34 L7.12 7.12 M4.50 7.10 L4.50 8.20 M2.66 6.34 L1.88 7.12 M1.90 4.50 L0.80 4.50 M2.66 2.66 L1.88 1.88 M4.50 1.90 L4.50 0.80 M6.34 2.66 L7.12 1.88 " stroke-width="1.2"/><circle cx="4.5" cy="4.5" r="0.65" fill="#d7962c" stroke="none"/></svg>
<div class="t s" style="left:1329.5px;top:550.35px;font-size:9px;line-height:9px;color:#a39888;font-weight:bold;letter-spacing:0.4px;">PROCESS</div>
<div class="t m" style="left:1329.5px;top:565.00px;font-size:10px;line-height:10px;color:#2a2420;">to: direct:nestedSplit</div>
<div class="t m" style="right:26.5px;top:558.50px;font-size:10px;line-height:10px;color:#c0443c;">6.18s</div>
<div class="b" style="left:1285px;top:611px;width:367px;height:1px;background:#ebe6de;"></div>
<div class="t s" style="left:1285px;top:629.75px;font-size:11px;line-height:11px;color:#a39888;font-weight:bold;letter-spacing:0.02px;">PROCESSOR TIMELINE</div>
<div class="t m" style="right:16.5px;top:631.50px;font-size:10px;line-height:10px;color:#b5aa9c;">6.18s</div>
<div class="t m" style="right:263.5px;top:658.50px;font-size:10px;line-height:10px;color:#4a433c;">process6</div>
<div class="b" style="left:1413px;top:654.9px;width:189px;height:15.5px;background:#efebe5;border-radius:3px"></div>
<div class="b" style="left:1413px;top:654.9px;width:8px;height:15.5px;background:#93b094;border-radius:3px"></div>
<div class="t m" style="right:16.5px;top:658.50px;font-size:10px;line-height:10px;color:#a59b8f;">0ms</div>
<div class="t m" style="right:263.5px;top:679.50px;font-size:10px;line-height:10px;color:#4a433c;">log7</div>
<div class="b" style="left:1413px;top:675.9px;width:189px;height:15.5px;background:#efebe5;border-radius:3px"></div>
<div class="b" style="left:1413px;top:675.9px;width:8px;height:15.5px;background:#93b094;border-radius:3px"></div>
<div class="t m" style="right:16.5px;top:679.50px;font-size:10px;line-height:10px;color:#a59b8f;">0ms</div>
<div class="t m" style="right:263.5px;top:700.50px;font-size:10px;line-height:10px;color:#4a433c;">to5</div>
<div class="b" style="left:1413px;top:696.9px;width:189px;height:15.5px;background:#efebe5;border-radius:3px"></div>
<div class="b" style="left:1413px;top:696.9px;width:189px;height:15.5px;background:#93b094;border-radius:3px"></div>
<div class="t m" style="right:70.5px;top:700.65px;font-size:9px;line-height:9px;color:#ffffff;font-weight:bold;">6.18s</div>
<div class="t m" style="right:16.5px;top:700.50px;font-size:10px;line-height:10px;color:#a59b8f;">6.18s</div>
<div class="t m" style="right:263.5px;top:721.50px;font-size:10px;line-height:10px;color:#4a433c;">log18</div>
<div class="b" style="left:1413px;top:717.9px;width:189px;height:15.5px;background:#efebe5;border-radius:3px"></div>
<div class="t m" style="right:16.5px;top:721.50px;font-size:10px;line-height:10px;color:#a59b8f;">0ms</div>
<div class="t m" style="right:263.5px;top:742.50px;font-size:10px;line-height:10px;color:#4a433c;">split1</div>
<div class="b" style="left:1413px;top:738.9px;width:189px;height:15.5px;background:#efebe5;border-radius:3px"></div>
<div class="t m" style="right:16.5px;top:742.50px;font-size:10px;line-height:10px;color:#a59b8f;">6.18s</div>
<div class="t m" style="right:263.5px;top:763.50px;font-size:10px;line-height:10px;color:#4a433c;">log19-iter-0</div>
<div class="b" style="left:1413px;top:759.9px;width:189px;height:15.5px;background:#efebe5;border-radius:3px"></div>
<div class="t m" style="right:16.5px;top:763.50px;font-size:10px;line-height:10px;color:#a59b8f;">6.18s</div>
<div class="t m" style="right:263.5px;top:784.50px;font-size:10px;line-height:10px;color:#4a433c;">log19</div>
<div class="b" style="left:1413px;top:780.9px;width:189px;height:15.5px;background:#efebe5;border-radius:3px"></div>
<div class="t m" style="right:16.5px;top:784.50px;font-size:10px;line-height:10px;color:#a59b8f;">0ms</div>
<div class="t m" style="right:263.5px;top:805.50px;font-size:10px;line-height:10px;color:#4a433c;">process14</div>
<div class="b" style="left:1413px;top:801.9px;width:189px;height:15.5px;background:#efebe5;border-radius:3px"></div>
<div class="t m" style="right:16.5px;top:805.50px;font-size:10px;line-height:10px;color:#a59b8f;">383ms</div>
<div class="t m" style="right:263.5px;top:826.50px;font-size:10px;line-height:10px;color:#4a433c;">choice2</div>
<div class="b" style="left:1413px;top:822.9px;width:189px;height:15.5px;background:#efebe5;border-radius:3px"></div>
<div class="t m" style="right:16.5px;top:826.50px;font-size:10px;line-height:10px;color:#a59b8f;">0ms</div>
<div class="t m" style="right:263.5px;top:847.50px;font-size:10px;line-height:10px;color:#4a433c;">log22</div>
<div class="b" style="left:1413px;top:843.9px;width:189px;height:15.5px;background:#efebe5;border-radius:3px"></div>
<div class="t m" style="right:16.5px;top:847.50px;font-size:10px;line-height:10px;color:#a59b8f;">0ms</div>
<div class="t m" style="right:263.5px;top:868.50px;font-size:10px;line-height:10px;color:#4a433c;">setHeader7</div>
<div class="b" style="left:1413px;top:864.9px;width:189px;height:15.5px;background:#efebe5;border-radius:3px"></div>
<div class="t m" style="right:16.5px;top:868.50px;font-size:10px;line-height:10px;color:#a59b8f;">0ms</div>
<div class="t m" style="right:263.5px;top:889.50px;font-size:10px;line-height:10px;color:#4a433c;">log22</div>
<div class="b" style="left:1413px;top:885.9px;width:189px;height:15.5px;background:#efebe5;border-radius:3px"></div>
<div class="t m" style="right:16.5px;top:889.50px;font-size:10px;line-height:10px;color:#a59b8f;">0ms</div>
<div class="t m" style="right:263.5px;top:910.50px;font-size:10px;line-height:10px;color:#4a433c;">setHeader7</div>
<div class="b" style="left:1413px;top:906.9px;width:189px;height:15.5px;background:#efebe5;border-radius:3px"></div>
<div class="t m" style="right:16.5px;top:910.50px;font-size:10px;line-height:10px;color:#a59b8f;">0ms</div>
<div class="t m" style="right:263.5px;top:931.50px;font-size:10px;line-height:10px;color:#4a433c;">log22</div>
<div class="b" style="left:1413px;top:927.9px;width:189px;height:15.5px;background:#efebe5;border-radius:3px"></div>
<div class="t m" style="right:16.5px;top:931.50px;font-size:10px;line-height:10px;color:#a59b8f;">0ms</div>
<div class="t m" style="right:263.5px;top:952.50px;font-size:10px;line-height:10px;color:#4a433c;">to9</div>
<div class="b" style="left:1413px;top:948.9px;width:189px;height:15.5px;background:#efebe5;border-radius:3px"></div>
<div class="t m" style="right:16.5px;top:952.50px;font-size:10px;line-height:10px;color:#a59b8f;">968ms</div>
<div class="t m" style="right:263.5px;top:973.50px;font-size:10px;line-height:10px;color:#4a433c;">log23</div>
<div class="b" style="left:1413px;top:969.9px;width:189px;height:15.5px;background:#efebe5;border-radius:3px"></div>
<div class="t m" style="right:16.5px;top:973.50px;font-size:10px;line-height:10px;color:#a59b8f;">0ms</div>
<div class="b" style="left:1198.2px;top:927px;width:100.6px;height:26.2px;background:#fff;border:1px solid #ece7df;border-radius:7px;box-shadow:0 2px 6px rgba(60,40,20,0.06)"></div>
<div class="b" style="left:1207px;top:931.8px;width:45.5px;height:16.6px;background:#f6f3ee;border:1px solid #e3ddd4;border-radius:4px"></div>
<div class="t m" style="left:1211.5px;top:936.30px;font-size:10px;line-height:10px;color:#6e655b;">Ctrl+K</div>
<div class="t s" style="left:1258.0px;top:935.16px;font-size:10.4px;line-height:10.4px;color:#b0a699;">Search</div>
<div class="b" style="left:1308.2px;top:927px;width:108.6px;height:26.2px;background:#fff;border:1px solid #ece7df;border-radius:7px;box-shadow:0 2px 6px rgba(60,40,20,0.06)"></div>
<div class="b" style="left:1317px;top:931.8px;width:21.5px;height:16.6px;background:#f6f3ee;border:1px solid #e3ddd4;border-radius:4px"></div>
<div class="t m" style="left:1321.5px;top:936.30px;font-size:10px;line-height:10px;color:#6e655b;"></div>
<div class="t s" style="left:1344.0px;top:935.16px;font-size:10.4px;line-height:10.4px;color:#b0a699;">Navigate rows</div>
<svg style="left:1322px;top:935px" width="12" height="10" viewBox="0 0 12 10" fill="none" stroke="#6e655b" stroke-width="1"><path d="M3 9.5 V0.8 M0.8 3 L3 0.8 L5.2 3 M9 0.5 V9.2 M6.8 7 L9 9.2 L11.2 7"/></svg>
<div class="b" style="left:1426.2px;top:927px;width:115.6px;height:26.2px;background:#fff;border:1px solid #ece7df;border-radius:7px;box-shadow:0 2px 6px rgba(60,40,20,0.06)"></div>
<div class="b" style="left:1435px;top:931.8px;width:39.5px;height:16.6px;background:#f6f3ee;border:1px solid #e3ddd4;border-radius:4px"></div>
<div class="t m" style="left:1439.5px;top:936.30px;font-size:10px;line-height:10px;color:#6e655b;">Enter</div>
<div class="t s" style="left:1480.0px;top:935.16px;font-size:10.4px;line-height:10.4px;color:#b0a699;">Open detail</div>
<div class="b" style="left:1551.7px;top:927px;width:104.1px;height:26.2px;background:#fff;border:1px solid #ece7df;border-radius:7px;box-shadow:0 2px 6px rgba(60,40,20,0.06)"></div>
<div class="b" style="left:1560.5px;top:931.8px;width:27.5px;height:16.6px;background:#f6f3ee;border:1px solid #e3ddd4;border-radius:4px"></div>
<div class="t m" style="left:1565.0px;top:936.30px;font-size:10px;line-height:10px;color:#6e655b;">Esc</div>
<div class="t s" style="left:1593.5px;top:935.16px;font-size:10.4px;line-height:10.4px;color:#b0a699;">Close panel</div>
</body></html>
